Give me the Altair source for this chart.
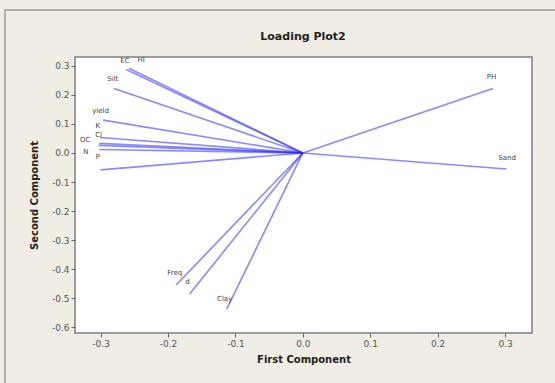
import altair as alt
import pandas as pd

names = ["EC", "HI", "Silt", "yield", "K", "Cl", "OC", "N", "P", "PH", "Sand", "Freq", "d", "Clay"]
comp1 = [-0.262, -0.258, -0.280, -0.296, -0.301, -0.302, -0.303, -0.302, -0.300, 0.282, 0.302, -0.188, -0.168, -0.113]
comp2 = [0.287, 0.291, 0.222, 0.113, 0.053, 0.033, 0.026, 0.012, -0.058, 0.222, -0.055, -0.454, -0.485, -0.537]
label_x = [-0.264, -0.240, -0.282, -0.300, -0.304, -0.303, -0.323, -0.322, -0.304, 0.280, 0.303, -0.190, -0.171, -0.116]
label_y = [0.316, 0.320, 0.254, 0.144, 0.093, 0.062, 0.045, 0.003, -0.014, 0.261, -0.017, -0.412, -0.443, -0.502]
x_ticks = [-0.3, -0.2, -0.1, 0.0, 0.1, 0.2, 0.3]
y_ticks = [0.3, 0.2, 0.1, 0.0, -0.1, -0.2, -0.3, -0.4, -0.5, -0.6]
title_text = ["Loading Plot2"]

df = pd.DataFrame({"name": names, "c1": comp1, "c2": comp2, "lx": label_x, "ly": label_y,
                   "o1": [0.0] * len(names), "o2": [0.0] * len(names)})
tdf = pd.DataFrame({"t": title_text})

xs = alt.Scale(domain=[-0.338, 0.340], nice=False, zero=False)
ys = alt.Scale(domain=[-0.619, 0.330], nice=False, zero=False)

lbl = "replace(format(datum.value, '.1f'), '\u2212', '-')"
ax_common = dict(labelExpr=lbl, labelFont="DejaVu Sans", labelFontSize=9, labelColor="#555555",
                 titleFont="DejaVu Sans", titleFontSize=10, titleFontWeight="bold", titleColor="#222222",
                 grid=False, domain=False, tickColor="#666666", tickSize=4, labelOverlap=False)
x_axis = alt.Axis(values=x_ticks, titlePadding=6, **ax_common)
y_axis = alt.Axis(values=y_ticks, titlePadding=12, **ax_common)

rules = alt.Chart(df).mark_rule(color="#2a2aff", opacity=0.55, strokeWidth=1.6).encode(
    x=alt.X("c1:Q", scale=xs, title="First Component", axis=x_axis),
    y=alt.Y("c2:Q", scale=ys, title="Second Component", axis=y_axis),
    x2="o1:Q", y2="o2:Q",
)

labels = alt.Chart(df).mark_text(font="DejaVu Sans", fontSize=7, color="#444444", baseline="middle",
                                 align="center").encode(
    x=alt.X("lx:Q", scale=xs, title="First Component", axis=x_axis),
    y=alt.Y("ly:Q", scale=ys, title="Second Component", axis=y_axis),
    text="name:N")

frame = alt.Chart(tdf).mark_rect(fill=None, stroke="#9a9a9a", strokeWidth=1.5).encode(
    x=alt.value(-70), x2=alt.value(620), y=alt.value(-47), y2=alt.value(400))

title = alt.Chart(tdf).mark_text(font="DejaVu Sans", fontSize=11, fontWeight="bold", color="#222222",
                                 align="center", baseline="middle").encode(
    x=alt.value(228), y=alt.value(-20), text="t:N")

chart = alt.layer(frame, rules, labels, title).properties(
    width=457, height=276,
    autosize=alt.AutoSizeParams(type="none"),
    padding={"left": 75, "top": 57, "right": 23, "bottom": 50},
    background="#f0ede4",
).configure_view(stroke="#7f7f7f", strokeWidth=1.5, fill="white")

chart.save("out.html", embed_options={"renderer": "svg", "actions": False})
